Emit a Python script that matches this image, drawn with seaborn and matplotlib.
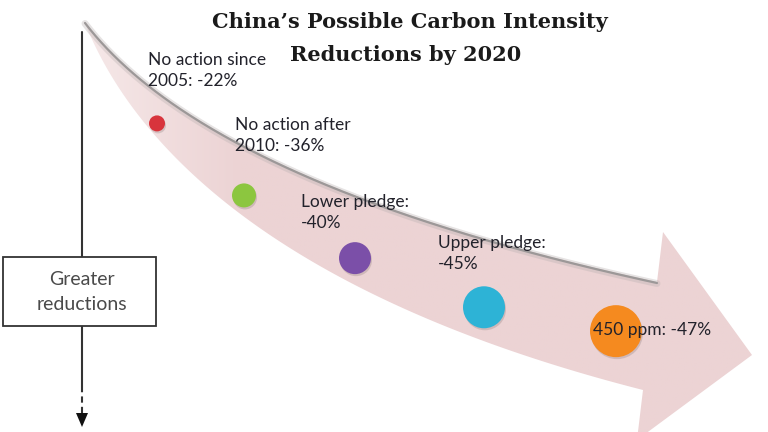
import numpy as np
import pandas as pd
import matplotlib
matplotlib.use("Agg")
import matplotlib.pyplot as plt
from matplotlib.patches import Polygon, Rectangle
import seaborn as sns


# ============================================================================
# Data
# ============================================================================

scenarios = [
    "No action since\n2005",
    "No action after\n2010",
    "Lower pledge",
    "Upper pledge",
    "450 ppm",
]
reductions = [-22, -36, -40, -45, -47]
dot_colors = ["#d8343c", "#8cc63f", "#7b4fa8", "#2db3d6", "#f58a1f"]

title_lines = ["China\u2019s Possible Carbon Intensity", "Reductions by 2020"]
axis_label = "Greater\nreductions"


# ============================================================================
# Layout (pixel space, y grows downwards)
# ============================================================================

label_sep = [": ", ": ", ":\n", ":\n", ": "]
label_xy = [(148, 52), (235, 117), (301, 194), (438, 235), (593, 330)]
label_va = ["top", "top", "top", "top", "center"]
dot_x = [157, 244, 355, 484, 616]
dot_frac = [0.69, 0.70, 0.70, 0.67, 0.53]
dot_diam = [16, 24, 32, 42, 52]

W, H = 768, 432


def quad_bezier(p0, c, p2, n=300):
    t = np.linspace(0, 1, n)[:, None]
    p0, c, p2 = map(np.array, (p0, c, p2))
    return (1 - t) ** 2 * p0 + 2 * t * (1 - t) * c + t ** 2 * p2


def cubic_bezier(p0, p1, p2, p3, n=300):
    t = np.linspace(0, 1, n)[:, None]
    p0, p1, p2, p3 = map(np.array, (p0, p1, p2, p3))
    return ((1 - t) ** 3 * p0 + 3 * t * (1 - t) ** 2 * p1
            + 3 * t ** 2 * (1 - t) * p2 + t ** 3 * p3)


upper = quad_bezier((85, 22), (210, 185), (657, 282))
lower = cubic_bezier((87, 28), (140, 155), (290, 300), (643, 390))
head = np.array([(663, 232), (752, 355), (637, 440)])

arrow_pts = np.vstack([upper, head, lower[::-1]])


# ============================================================================
# Figure
# ============================================================================

sns.set_theme(style="white")
plt.rcParams["font.family"] = ["Lato", "DejaVu Sans"]

fig = plt.figure(figsize=(W / 100, H / 100), dpi=100)
ax = fig.add_axes([0, 0, 1, 1])
ax.set_xlim(0, W)
ax.set_ylim(H, 0)
ax.axis("off")

# curved arrow with a soft gradient
arrow = Polygon(arrow_pts, closed=True, facecolor="none", edgecolor="none")
ax.add_patch(arrow)

gx, gy = np.meshgrid(np.linspace(0, W, 400), np.linspace(0, H, 230))
fade = np.clip((gx - 80) / 160, 0, 1)
base = np.array([236, 211, 212]) / 255
light = np.array([246, 233, 233]) / 255
rgb = light[None, None, :] * (1 - fade[..., None]) + base[None, None, :] * fade[..., None]
img = ax.imshow(rgb, extent=(0, W, H, 0), aspect="auto", zorder=1)
img.set_clip_path(arrow)

# shadow along the upper edge
ax.plot(upper[:, 0], upper[:, 1] + 1.5, color="#b8b0b0", lw=5, alpha=0.35,
        solid_capstyle="round", zorder=2)
ax.plot(upper[:, 0], upper[:, 1] + 1, color="#9c9898", lw=1.6, zorder=2)

# dots sitting inside the arrow
up_y = np.interp(dot_x, upper[:, 0], upper[:, 1])
lo_y = np.interp(dot_x, lower[:, 0], lower[:, 1])
dot_y = up_y + np.array(dot_frac) * (lo_y - up_y)

df = pd.DataFrame({
    "scenario": scenarios,
    "reduction": reductions,
    "x": dot_x,
    "y": dot_y,
})
size_map = {s: (d * 0.72) ** 2 for s, d in zip(scenarios, dot_diam)}

sns.scatterplot(data=df, x="x", y="y", size="scenario", sizes=size_map,
                color="#7a6a6a", alpha=0.25, linewidth=0, legend=False,
                ax=ax, zorder=3)
sns.scatterplot(data=df, x="x", y="y", hue="scenario", palette=dot_colors,
                size="scenario", sizes=size_map, linewidth=0, legend=False,
                ax=ax, zorder=4)
ax.collections[-2].set_offsets(np.column_stack([df["x"] + 1, df["y"] + 2]))
ax.set_xlim(0, W)
ax.set_ylim(H, 0)
ax.set_xlabel("")
ax.set_ylabel("")

# scenario labels
for s, v, sep, (lx, ly), va in zip(scenarios, reductions, label_sep,
                                   label_xy, label_va):
    ax.text(lx, ly, f"{s}{sep}{v}%", ha="left", va=va, fontsize=12.5,
            color="#22222b", linespacing=1.4, zorder=5)

# title
ax.text(410, 22, title_lines[0], ha="center", va="center", fontsize=15,
        fontweight="bold", family="DejaVu Serif", color="#1a1a1a", zorder=5)
ax.text(406, 55, title_lines[1], ha="center", va="center", fontsize=15,
        fontweight="bold", family="DejaVu Serif", color="#1a1a1a", zorder=5)

# vertical "greater reductions" axis
ax.plot([82, 82], [32, 257], color="#333333", lw=1.5, zorder=5)
ax.plot([82, 82], [326, 386], color="#333333", lw=1.5, zorder=5)
ax.plot([82, 82], [386, 414], color="#333333", lw=1.5, ls=(0, (3, 2)), zorder=5)
ax.add_patch(Polygon([(76, 413), (88, 413), (82, 427)], closed=True,
                     facecolor="#111111", edgecolor="none", zorder=5))
ax.add_patch(Rectangle((3, 257), 153, 69, facecolor="white",
                       edgecolor="#333333", lw=1.3, zorder=5))
ax.text(82, 292, axis_label, ha="center", va="center", fontsize=14,
        color="#4a4a4a", linespacing=1.55, zorder=6)

fig.savefig("out.png", dpi=100)
